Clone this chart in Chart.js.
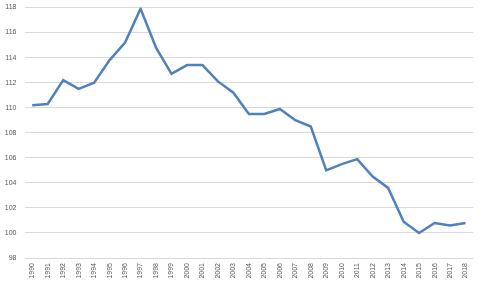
<!DOCTYPE html>
<html>
<head>
<meta charset="utf-8">
<style>
html,body{margin:0;padding:0;background:#fff;}
#wrap{width:479px;height:285px;position:relative;}
</style>
<script src="https://cdn.jsdelivr.net/npm/chart.js@4"></script>
</head>
<body>
<div id="wrap"><canvas id="c" width="479" height="285"></canvas></div>
<script>
const years = ["1990","1991","1992","1993","1994","1995","1996","1997","1998","1999","2000","2001","2002","2003","2004","2005","2006","2007","2008","2009","2010","2011","2012","2013","2014","2015","2016","2017","2018"];
const values = [110.2,110.3,112.2,111.5,112.0,113.8,115.2,117.9,114.8,112.7,113.4,113.4,112.1,111.2,109.5,109.5,109.9,109.0,108.5,105.0,105.5,105.9,104.5,103.6,100.9,100.0,100.8,100.6,100.8];
const yMin = 98, yMax = 118, yStep = 2;

new Chart(document.getElementById('c'), {
  type: 'line',
  data: {
    labels: years,
    datasets: [{
      data: values,
      borderColor: '#4f81bd',
      borderWidth: 2.5,
      pointRadius: 0,
      tension: 0,
      fill: false
    }]
  },
  options: {
    responsive: false,
    animation: false,
    layout: { padding: { top: 0, right: 5, left: 0, bottom: 1.4 } },
    plugins: { legend: { display: false }, tooltip: { enabled: false } },
    scales: {
      x: {
        offset: true,
        grid: { display: false, drawTicks: false },
        border: { display: false },
        ticks: {
          minRotation: 90, maxRotation: 90, autoSkip: false,
          color: '#595959',
          font: { family: 'Liberation Sans', size: 7 },
          padding: 5
        }
      },
      y: {
        min: yMin, max: yMax,
        afterFit: (s) => { s.width = 24.5; s.paddingTop = 7.5; s.paddingBottom = 0; },
        grid: { color: '#d9d9d9', drawTicks: false, lineWidth: 1 },
        border: { display: false },
        ticks: {
          stepSize: yStep,
          color: '#595959',
          font: { family: 'Liberation Sans', size: 7 },
          padding: 8
        }
      }
    }
  }
});
</script>
</body>
</html>
